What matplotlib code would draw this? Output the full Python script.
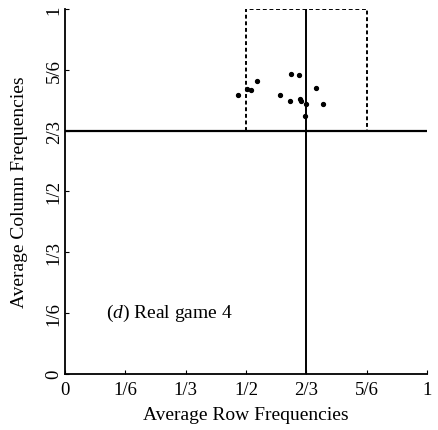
import matplotlib.pyplot as plt

# average row / column frequencies
row_freq = [0.477, 0.504, 0.513, 0.531, 0.624, 0.646, 0.595, 0.621,
            0.649, 0.651, 0.667, 0.663, 0.693, 0.714]
col_freq = [0.765, 0.782, 0.778, 0.802, 0.823, 0.818, 0.765, 0.749,
            0.753, 0.747, 0.741, 0.707, 0.783, 0.741]

ticks = [0, 1/6, 1/3, 1/2, 2/3, 5/6, 1]
tick_labels = ['0', '1/6', '1/3', '1/2', '2/3', '5/6', '1']

# dashed region and equilibrium lines
box_x = [1/2, 1/2, 5/6, 5/6]
box_y = [2/3, 1, 1, 2/3]
eq_row = 2/3
eq_col = 2/3

plt.rcParams['font.family'] = ['Liberation Serif', 'DejaVu Serif']
plt.rcParams['mathtext.fontset'] = 'custom'
plt.rcParams['mathtext.rm'] = 'Liberation Serif'
plt.rcParams['mathtext.it'] = 'Liberation Serif:italic'

fig = plt.figure(figsize=(4.38, 4.31), dpi=100)
ax = fig.add_axes([0.148, 0.1306, 0.827, 0.846])

ax.plot(box_x, box_y, color='black', lw=1.4, linestyle=(0, (2, 1.4)))
ax.axvline(eq_row, color='black', lw=1.4)
ax.axhline(eq_col, color='black', lw=1.6)
ax.plot(row_freq, col_freq, 'o', color='black', markersize=2.8)

ax.text(0.113, 0.168, r'($\it{d}$) Real game 4', fontsize=14, va='center', ha='left')

ax.set_xlim(0, 1)
ax.set_ylim(0, 1)
ax.set_xticks(ticks)
ax.set_xticklabels(tick_labels)
ax.set_yticks(ticks)
ax.set_yticklabels(tick_labels, rotation=90, va='center')
ax.tick_params(direction='in', length=3, labelsize=13.5)
ax.tick_params(axis='x', pad=5)
ax.tick_params(axis='y', pad=1.5)

for side in ['top', 'right']:
    ax.spines[side].set_visible(False)
ax.spines['left'].set_linewidth(1.3)
ax.spines['bottom'].set_linewidth(1.3)

ax.set_xlabel('Average Row Frequencies', fontsize=14, labelpad=6)
ax.set_ylabel('Average Column Frequencies', fontsize=14, labelpad=13)

plt.savefig('out.png', dpi=100)
